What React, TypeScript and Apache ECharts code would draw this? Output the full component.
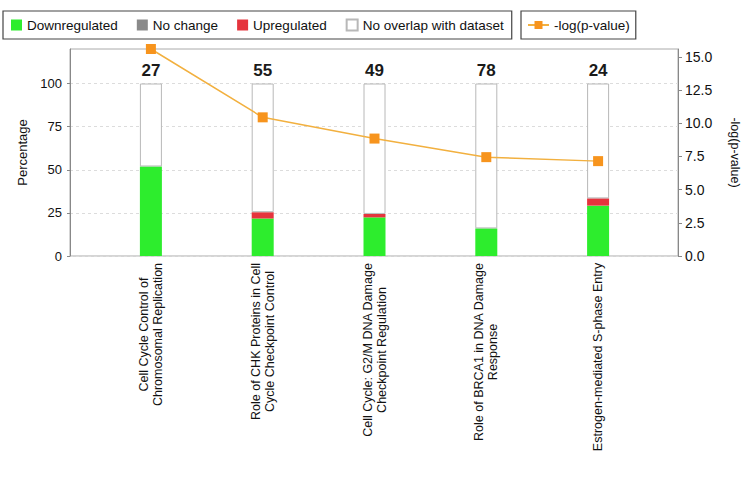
import React, { useEffect, useRef } from "react";
import * as echarts from "echarts";

const categories = [
  "Cell Cycle Control of\nChromosomal Replication",
  "Role of CHK Proteins in Cell\nCycle Checkpoint Control",
  "Cell Cycle: G2/M DNA Damage\nCheckpoint Regulation",
  "Role of BRCA1 in DNA Damage\nResponse",
  "Estrogen-mediated S-phase Entry",
];
const downregulated = [51.9, 21.8, 22.4, 16.0, 29.2];
const noChange = [0, 0, 0, 0, 0];
const upregulated = [0, 3.6, 2.0, 0, 4.2];
const totals = [27, 55, 49, 78, 24];
const negLogP = [15.6, 10.45, 8.85, 7.45, 7.15];
const leftTicks = [0, 25, 50, 75, 100];
const rightTicks = [0, 2.5, 5, 7.5, 10, 12.5, 15];

const noOverlap = downregulated.map((d, i) => +(100 - d - noChange[i] - upregulated[i]).toFixed(2));
const orNull = (arr: number[]) => arr.map((v) => (v === 0 ? null : v));

const FONT = "Liberation Sans";
const XFONT_SIZE = 12.5;

function measure(text: string): number {
  const c = document.createElement("canvas").getContext("2d");
  if (!c) return text.length * 6.5;
  c.font = `${XFONT_SIZE}px "${FONT}"`;
  return c.measureText(text).width;
}

export default function App() {
  const ref = useRef<HTMLDivElement>(null);
  useEffect(() => {
    document.body.style.margin = "0";
    const chart = echarts.init(ref.current!, null, { renderer: "svg" });
    const frameGrid = { left: 70, right: 75, top: 49, bottom: 221 };
    const barGrid = { left: 95, right: 99, top: 49, bottom: 221 };
    const rich: Record<string, any> = {};
    categories.forEach((c, i) => {
      const w = Math.ceil(Math.max(...c.split("\n").map(measure))) + 1;
      rich["c" + i] = {
        width: w,
        align: "center",
        fontSize: XFONT_SIZE,
        lineHeight: 14,
        color: "#111",
        fontFamily: FONT,
      };
    });
    chart.setOption({
      animation: false,
      backgroundColor: "#fff",
      textStyle: { fontFamily: FONT },
      legend: [
        {
          left: 3,
          top: 11,
          padding: [7, 8, 7, 8],
          itemGap: 19,
          itemWidth: 11,
          itemHeight: 11,
          icon: "rect",
          borderColor: "#444",
          borderWidth: 1.2,
          textStyle: { fontSize: 13.5, color: "#111", fontFamily: FONT },
          data: ["Downregulated", "No change", "Upregulated", "No overlap with dataset"],
        },
        {
          left: 521,
          top: 11,
          padding: [7, 6, 7, 6],
          itemWidth: 21,
          itemHeight: 10,
          itemGap: 4,
          borderColor: "#444",
          borderWidth: 1.2,
          textStyle: { fontSize: 13.5, color: "#111", fontFamily: FONT },
          data: ["-log(p-value)"],
        },
      ],
      grid: [
        { ...frameGrid, show: true, borderColor: "#aaa", borderWidth: 1, backgroundColor: "transparent" },
        { ...barGrid },
      ],
      xAxis: [
        {
          gridIndex: 0,
          type: "category",
          data: categories,
          axisLine: { show: false },
          axisTick: { show: false },
          axisLabel: { show: false },
        },
        {
          gridIndex: 1,
          type: "category",
          data: categories,
          axisLine: { show: false },
          axisTick: { show: false },
          axisLabel: {
            rotate: 90,
            margin: 6,
            fontSize: XFONT_SIZE,
            lineHeight: 14,
            color: "#111",
            fontFamily: FONT,
            interval: 0,
            formatter: (value: string, index: number) =>
              value
                .split("\n")
                .map((l) => `{c${index}|${l}}`)
                .join("\n"),
            rich,
          },
        },
      ],
      yAxis: [
        {
          gridIndex: 0,
          type: "value",
          min: 0,
          max: 120,
          interval: 25,
          position: "left",
          name: "Percentage",
          nameLocation: "middle",
          nameGap: 38,
          nameTextStyle: { fontSize: 13, color: "#111", fontFamily: FONT },
          axisLine: { show: true, lineStyle: { color: "#888" } },
          axisTick: { show: true, length: 3, lineStyle: { color: "#888" }, customValues: leftTicks },
          axisLabel: { fontSize: 13, color: "#111", margin: 8, customValues: leftTicks },
          splitLine: { show: true, lineStyle: { color: "#dcdcdc", type: [3, 3] } },
        },
        {
          gridIndex: 0,
          type: "value",
          min: 0,
          max: 15.6,
          interval: 2.5,
          position: "right",
          name: "-log(p-value)",
          nameLocation: "middle",
          nameRotate: -90,
          nameGap: 50,
          nameTextStyle: { fontSize: 12.5, color: "#111", fontFamily: FONT },
          axisLine: { show: true, lineStyle: { color: "#888" } },
          axisTick: { show: true, length: 4, lineStyle: { color: "#888" }, customValues: rightTicks },
          axisLabel: {
            fontSize: 14,
            color: "#111",
            margin: 7,
            customValues: rightTicks,
            formatter: (v: number) => v.toFixed(1),
          },
          splitLine: { show: false },
        },
        { gridIndex: 1, type: "value", min: 0, max: 120, show: false },
        { gridIndex: 1, type: "value", min: 0, max: 15.6, show: false },
      ],
      series: [
        {
          name: "Downregulated",
          type: "bar",
          xAxisIndex: 1,
          yAxisIndex: 2,
          stack: "pct",
          barWidth: 22,
          itemStyle: { color: "#2ded2d" },
          data: orNull(downregulated),
        },
        {
          name: "No change",
          type: "bar",
          xAxisIndex: 1,
          yAxisIndex: 2,
          stack: "pct",
          barWidth: 22,
          itemStyle: { color: "#8a8a8a" },
          data: orNull(noChange),
        },
        {
          name: "Upregulated",
          type: "bar",
          xAxisIndex: 1,
          yAxisIndex: 2,
          stack: "pct",
          barWidth: 22,
          itemStyle: { color: "#e5343d" },
          data: orNull(upregulated),
        },
        {
          name: "No overlap with dataset",
          type: "bar",
          xAxisIndex: 1,
          yAxisIndex: 2,
          stack: "pct",
          barWidth: 22,
          itemStyle: { color: "#ffffff", borderColor: "#b8b8b8", borderWidth: 1 },
          label: {
            show: true,
            position: "top",
            distance: 5,
            fontSize: 17,
            fontWeight: "bold",
            color: "#1a1a1a",
            fontFamily: FONT,
            formatter: (p: any) => String(totals[p.dataIndex]),
          },
          data: noOverlap,
        },
        {
          name: "-log(p-value)",
          type: "line",
          xAxisIndex: 1,
          yAxisIndex: 3,
          symbol: "rect",
          symbolSize: 10,
          itemStyle: { color: "#f7941d" },
          lineStyle: { color: "#f2b03f", width: 1.5 },
          data: negLogP,
        },
      ],
    });
    return () => chart.dispose();
  }, []);
  return <div ref={ref} style={{ width: 753, height: 477 }} />;
}
